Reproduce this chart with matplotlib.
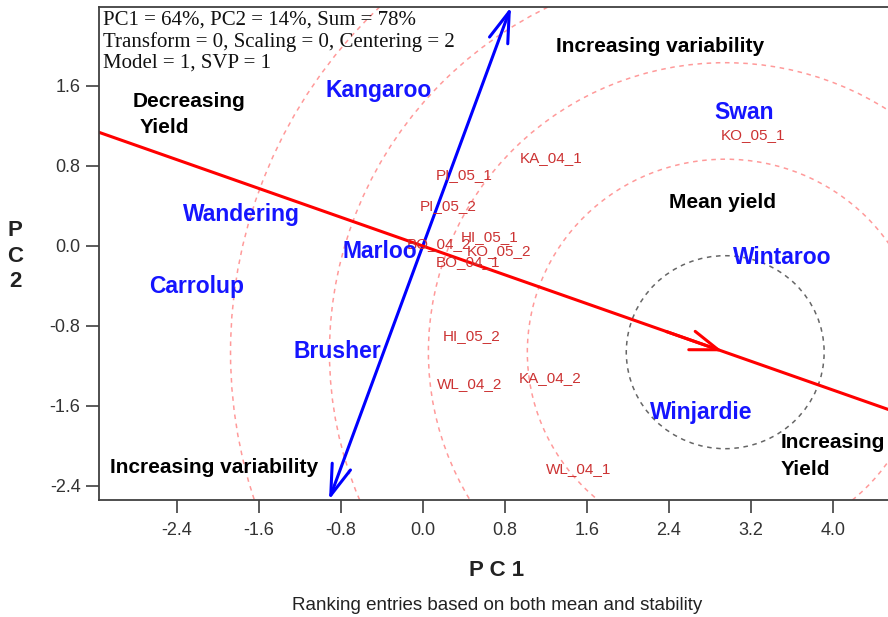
import matplotlib as mpl
mpl.use('Agg')
import matplotlib.pyplot as plt
from matplotlib.patches import Circle, FancyArrowPatch
import numpy as np

plt.rcParams['font.family'] = ['Liberation Sans', 'DejaVu Sans']

# entries (blue) and environments (red), label positions on PC1/PC2
entry_names = ['Kangaroo', 'Swan', 'Wandering', 'Marloo', 'Carrolup',
               'Wintaroo', 'Brusher', 'Winjardie']
entry_pc1 = [-0.43, 3.13, -1.77, -0.42, -2.21, 3.51, -0.83, 2.72]
entry_pc2 = [1.555, 1.335, 0.31, -0.06, -0.41, -0.11, -1.06, -1.66]

env_names = ['KA_04_1', 'PI_05_1', 'PI_05_2', 'HI_05_1', 'BO_04_2', 'KO_05_2',
             'BO_04_1', 'HI_05_2', 'WL_04_2', 'KA_04_2', 'WL_04_1', 'KO_05_1']
env_pc1 = [1.25, 0.405, 0.25, 0.65, 0.16, 0.745, 0.44, 0.475, 0.455, 1.24, 1.52, 3.22]
env_pc2 = [0.88, 0.71, 0.40, 0.09, 0.02, -0.05, -0.165, -0.905, -1.38, -1.32, -2.235, 1.11]

# average environment point and circle step
aem = (2.95, -1.062)
ring_step = 0.965
n_rings = 5

xlim = (-3.155, 4.58)
ylim = (-2.54, 2.39)
xticks = [-2.4, -1.6, -0.8, 0.0, 0.8, 1.6, 2.4, 3.2, 4.0]
yticks = [-2.4, -1.6, -0.8, 0.0, 0.8, 1.6]

fig = plt.figure(figsize=(8.88, 6.17), dpi=100)
ax = fig.add_axes([99.3/888, 117/617, 793/888, 493/617])
ax.set_xlim(*xlim)
ax.set_ylim(*ylim)

# concentric circles round the average environment
for k in range(2, n_rings + 1):
    ax.add_patch(Circle(aem, k*ring_step, fill=False, ec='#ff9a9a',
                        lw=1.1, ls=(0, (3, 3))))
ax.add_patch(Circle(aem, ring_step, fill=False, ec='#666666', lw=1.1, ls=(0, (3, 3))))

# average environment axis (through origin and aem)
slope = aem[1]/aem[0]
ax.plot([xlim[0], xlim[1]], [slope*xlim[0], slope*xlim[1]], color='#ff0000', lw=2.2)
ax.add_patch(FancyArrowPatch((aem[0]-0.6, slope*(aem[0]-0.6)), aem,
                             arrowstyle='->,head_length=1.0,head_width=0.35',
                             mutation_scale=20, color='#ff0000', lw=2.2))

# perpendicular axis, double headed
ps = -1/slope
y0, y1 = ylim
ax.add_patch(FancyArrowPatch((y0/ps, y0), (y1/ps, y1),
                             arrowstyle='<->,head_length=1.1,head_width=0.35',
                             mutation_scale=20, color='#0000ff', lw=2.2,
                             shrinkA=0, shrinkB=0, clip_on=False))

for n, x, y in zip(env_names, env_pc1, env_pc2):
    ax.text(x, y, n, color='#cc3333', fontsize=11, ha='center', va='center')
for n, x, y in zip(entry_names, entry_pc1, entry_pc2):
    ax.text(x, y, n, color='#1515ff', fontsize=16.5, fontweight='bold',
            ha='center', va='center')

bold = dict(fontsize=15, fontweight='bold', color='black')
ax.text(-2.826, 1.39, 'Decreasing', ha='left', va='baseline', **bold)
ax.text(-2.758, 1.13, 'Yield', ha='left', va='baseline', **bold)
ax.text(2.317, 1.94, 'Increasing variability', ha='center', va='baseline', **bold)
ax.text(2.92, 0.38, 'Mean yield', ha='center', va='baseline', **bold)
ax.text(-2.036, -2.267, 'Increasing variability', ha='center', va='baseline', **bold)
ax.text(3.486, -2.02, 'Increasing', ha='left', va='baseline', **bold)
ax.text(3.486, -2.29, 'Yield', ha='left', va='baseline', **bold)

ax.text(-3.12, 2.35, 'PC1 = 64%, PC2 = 14%, Sum = 78%\n'
        'Transform = 0, Scaling = 0, Centering = 2\nModel = 1, SVP = 1',
        family=['Liberation Serif', 'DejaVu Serif'], fontsize=15,
        ha='left', va='top', linespacing=1.14, color='#111111')

ax.set_xticks(xticks)
ax.set_yticks(yticks)
ax.set_xticklabels([f'{t:.1f}' for t in xticks])
ax.set_yticklabels([f'{t:.1f}' for t in yticks])
ax.tick_params(direction='out', length=9.5, width=1.2, color='#404040',
               labelcolor='#333333', labelsize=13)
ax.tick_params(axis='x', pad=6)
ax.tick_params(axis='y', pad=4)
for s in ['left', 'bottom', 'top']:
    ax.spines[s].set_color('#404040')
    ax.spines[s].set_linewidth(1.3)
ax.spines['right'].set_visible(False)

fig.text(497/888, 1-570/617, 'P C 1', ha='center', va='center',
         fontsize=16, fontweight='bold', color='#222222')
fig.text(15/888, 1-256/617, 'P\nC\n2', ha='center', va='center',
         fontsize=16, fontweight='bold', color='#222222', linespacing=1.3)
fig.text(497/888, 1-605/617, 'Ranking entries based on both mean and stability',
         ha='center', va='center', fontsize=13.5, color='#222222')

fig.savefig('out.png', dpi=100)
